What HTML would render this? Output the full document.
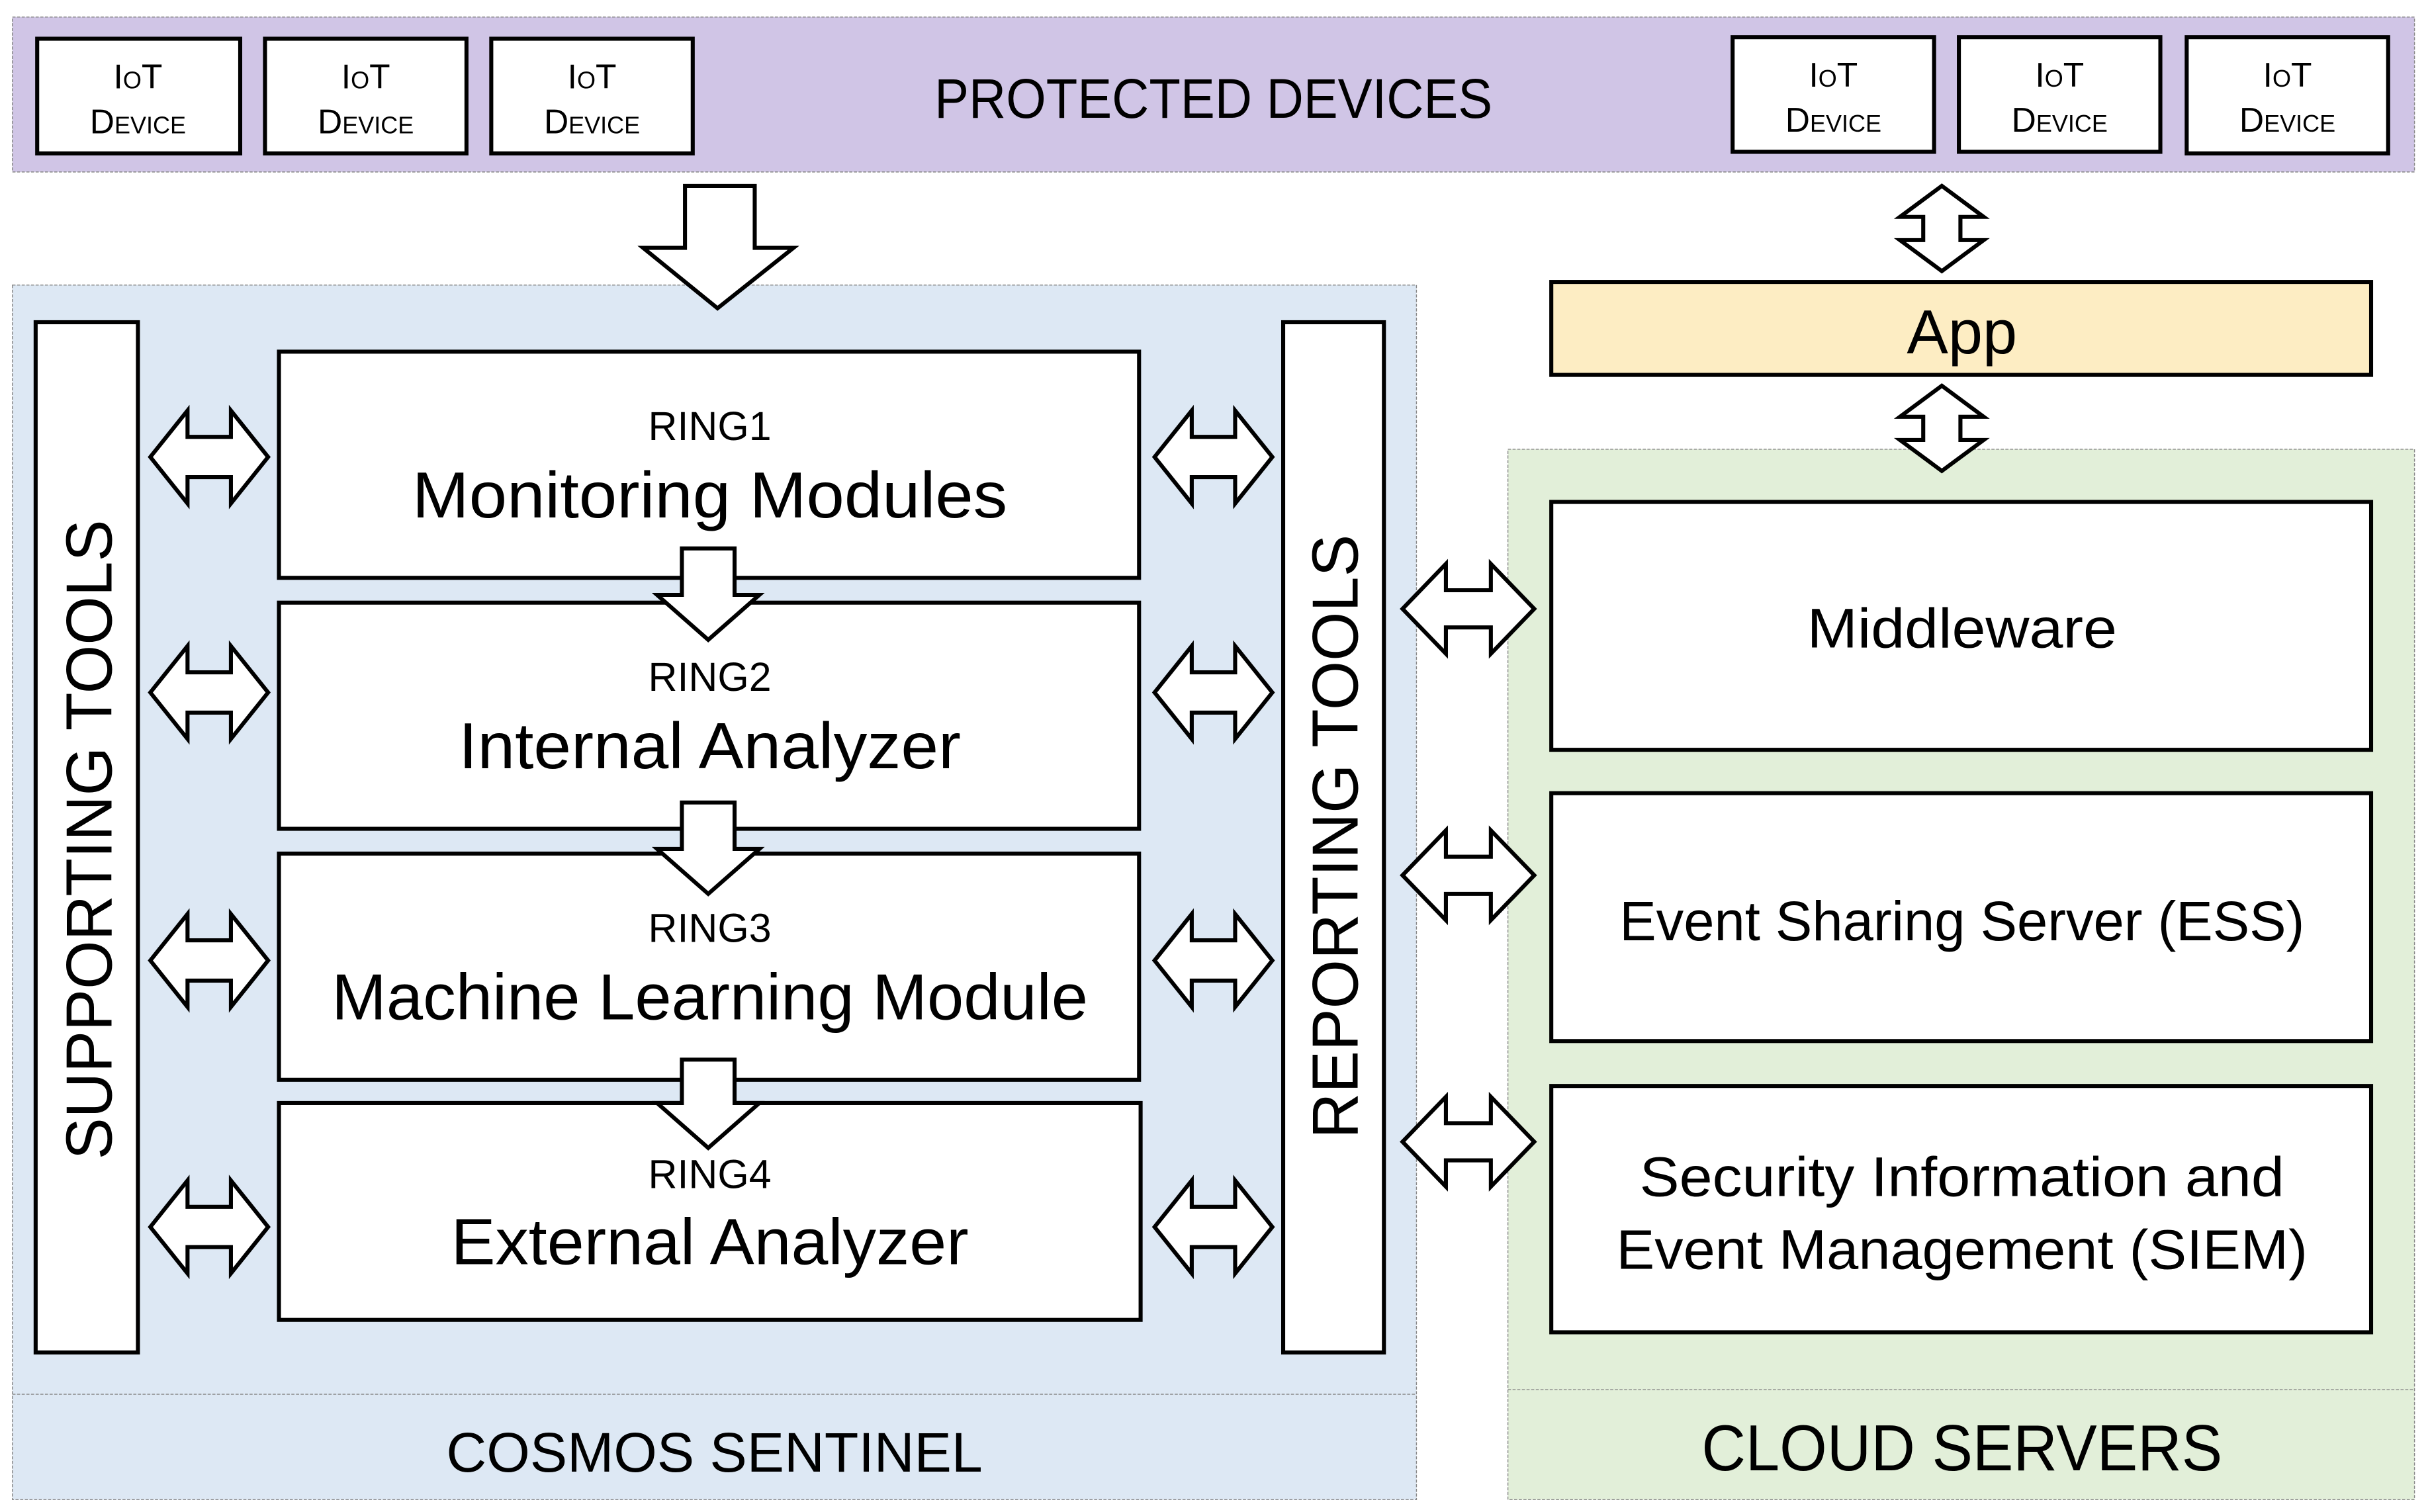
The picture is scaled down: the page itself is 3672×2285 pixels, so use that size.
<!DOCTYPE html>
<html><head><meta charset="utf-8"><style>
html,body{margin:0;padding:0;background:#fff;}
svg{display:block;}
text{font-family:"Liberation Sans",sans-serif;fill:#000;}
</style></head><body>
<svg width="3672" height="2285" viewBox="0 0 1568 976" preserveAspectRatio="none" xmlns="http://www.w3.org/2000/svg">
<!-- Purple band -->
<rect x="8" y="11" width="1550" height="100" fill="#d0c5e6" stroke="#888" stroke-width="0.6" stroke-dasharray="2 1"/>
<g fill="#fff" stroke="#000" stroke-width="2.6">
<rect x="24" y="25" width="131" height="74"/>
<rect x="171" y="25" width="130" height="74"/>
<rect x="317" y="25" width="130" height="74"/>
<rect x="1118" y="24" width="130" height="74"/>
<rect x="1264" y="24" width="130" height="74"/>
<rect x="1411" y="24" width="130" height="75"/>
</g>
<g font-size="22" text-anchor="middle" style="font-variant:small-caps">
<text x="89" y="57">IoT</text><text x="89" y="86">Device</text>
<text x="236" y="57">IoT</text><text x="236" y="86">Device</text>
<text x="382" y="57">IoT</text><text x="382" y="86">Device</text>
<text x="1183" y="56">IoT</text><text x="1183" y="85">Device</text>
<text x="1329" y="56">IoT</text><text x="1329" y="85">Device</text>
<text x="1476" y="56">IoT</text><text x="1476" y="85">Device</text>
</g>
<text x="783" y="76" font-size="36" text-anchor="middle" textLength="360" lengthAdjust="spacingAndGlyphs">PROTECTED DEVICES</text>

<!-- Blue panel -->
<rect x="8" y="184" width="906" height="784" fill="#dde8f4" stroke="#888" stroke-width="0.6" stroke-dasharray="2 1"/>
<line x1="8" y1="900" x2="914" y2="900" stroke="#888" stroke-width="0.6" stroke-dasharray="2 1"/>
<text x="461" y="950" font-size="36" text-anchor="middle" textLength="346" lengthAdjust="spacingAndGlyphs">COSMOS SENTINEL</text>

<!-- Big down arrow -->
<polygon points="442,120 487,120 487,160 512,160 463,199 415,160 442,160" fill="#fff" stroke="#000" stroke-width="2.6"/>

<!-- Green panel -->
<rect x="973" y="290" width="585" height="678" fill="#e2efd9" stroke="#888" stroke-width="0.6" stroke-dasharray="2 1"/>
<line x1="973" y1="897" x2="1558" y2="897" stroke="#888" stroke-width="0.6" stroke-dasharray="2 1"/>
<text x="1266" y="949" font-size="42" text-anchor="middle" textLength="336" lengthAdjust="spacingAndGlyphs">CLOUD SERVERS</text>

<!-- Tool bars -->
<g fill="#fff" stroke="#000" stroke-width="2.6">
<rect x="23" y="208" width="66" height="665"/>
<rect x="828" y="208" width="65" height="665"/>
</g>
<text transform="translate(72,542) rotate(-90)" font-size="42" text-anchor="middle" textLength="413" lengthAdjust="spacingAndGlyphs">SUPPORTING TOOLS</text>
<text transform="translate(876,540) rotate(-90)" font-size="42" text-anchor="middle" textLength="390" lengthAdjust="spacingAndGlyphs">REPORTING TOOLS</text>

<!-- Ring boxes -->
<g fill="#fff" stroke="#000" stroke-width="2.6">
<rect x="180" y="227" width="555" height="146"/>
<rect x="180" y="389" width="555" height="146"/>
<rect x="180" y="551" width="555" height="146"/>
<rect x="180" y="712" width="556" height="140"/>
</g>
<g text-anchor="middle">
<text x="458" y="284" font-size="26">RING1</text>
<text x="458" y="334" font-size="42" textLength="384" lengthAdjust="spacingAndGlyphs">Monitoring Modules</text>
<text x="458" y="446" font-size="26">RING2</text>
<text x="458" y="496" font-size="42" textLength="324" lengthAdjust="spacingAndGlyphs">Internal Analyzer</text>
<text x="458" y="608" font-size="26">RING3</text>
<text x="458" y="658" font-size="42" textLength="488" lengthAdjust="spacingAndGlyphs">Machine Learning Module</text>
<text x="458" y="767" font-size="26">RING4</text>
<text x="458" y="816" font-size="42" textLength="334" lengthAdjust="spacingAndGlyphs">External Analyzer</text>
</g>

<!-- Small down arrows -->
<g fill="#fff" stroke="#000" stroke-width="2.6">
<polygon points="440,354 474,354 474,384 490,384 457,413 424,384 440,384"/>
<polygon points="440,518 474,518 474,548 490,548 457,577 424,548 440,548"/>
<polygon points="440,684 474,684 474,712 490,712 457,741 424,712 440,712"/>
</g>

<!-- Double arrows -->
<defs>
<polygon id="dh" points="0,0 24,-30 24,-13 52,-13 52,-30 76,0 52,30 52,13 24,13 24,30" fill="#fff" stroke="#000" stroke-width="2.6"/>
<polygon id="dh2" points="0,0 28,-29 28,-12 57,-12 57,-29 85,0 57,29 57,12 28,12 28,29" fill="#fff" stroke="#000" stroke-width="2.6"/>
<polygon id="dv" points="0,0 -27,20 -12,20 -12,35 -27,35 0,55 27,35 12,35 12,20 27,20" fill="#fff" stroke="#000" stroke-width="2.6"/>
</defs>
<use href="#dh" x="97" y="295"/>
<use href="#dh" x="97" y="447"/>
<use href="#dh" x="97" y="620"/>
<use href="#dh" x="97" y="792"/>
<use href="#dh" x="745" y="295"/>
<use href="#dh" x="745" y="447"/>
<use href="#dh" x="745" y="620"/>
<use href="#dh" x="745" y="792"/>
<use href="#dh2" x="905" y="393"/>
<use href="#dh2" x="905" y="565"/>
<use href="#dh2" x="905" y="737"/>
<use href="#dv" x="1253" y="120"/>
<use href="#dv" x="1253" y="249"/>

<!-- App -->
<rect x="1001" y="182" width="529" height="60" fill="#fdedc3" stroke="#000" stroke-width="2.6"/>
<text x="1266" y="228" font-size="40" text-anchor="middle">App</text>

<!-- Cloud boxes -->
<g fill="#fff" stroke="#000" stroke-width="2.6">
<rect x="1001" y="324" width="529" height="160"/>
<rect x="1001" y="512" width="529" height="160"/>
<rect x="1001" y="701" width="529" height="159"/>
</g>
<g text-anchor="middle" font-size="36">
<text x="1266" y="418" textLength="200" lengthAdjust="spacingAndGlyphs">Middleware</text>
<text x="1266" y="607" textLength="442" lengthAdjust="spacingAndGlyphs">Event Sharing Server (ESS)</text>
<text x="1266" y="772" textLength="416" lengthAdjust="spacingAndGlyphs">Security Information and</text>
<text x="1266" y="819" textLength="446" lengthAdjust="spacingAndGlyphs">Event Management (SIEM)</text>
</g>
</svg>
</body></html>
